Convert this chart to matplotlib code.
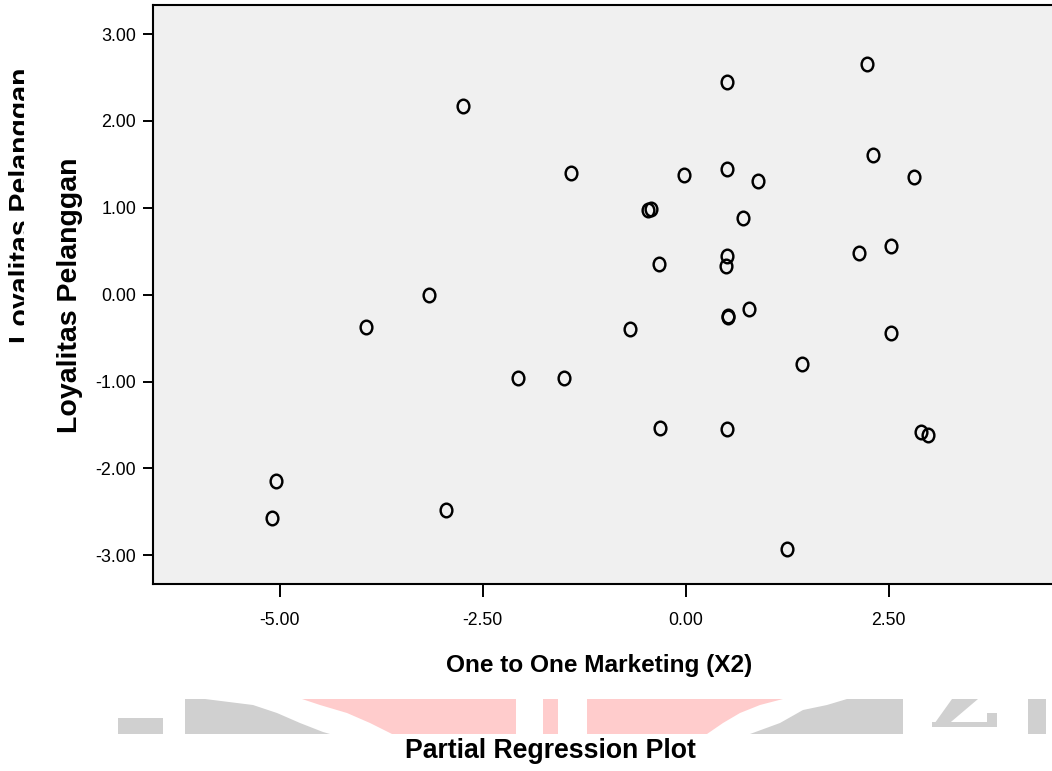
import matplotlib
matplotlib.use('Agg')
import matplotlib.pyplot as plt
from matplotlib.path import Path
from matplotlib.patches import Polygon
from matplotlib.transforms import Affine2D, Bbox, TransformedBbox

plt.rcParams['font.family'] = ['Liberation Sans', 'DejaVu Sans']

# residual One to One Marketing (X2) vs residual Loyalitas Pelanggan
x_res = [-2.74, -1.41, -0.47, -0.43, -3.16, 0.51, 2.23, 2.31, 2.81, -0.02,
         0.51, 0.89, 0.70, -0.33, 0.51, 0.50, 2.13, 2.53, -3.94, -2.06,
         -1.50, -0.69, -5.05, -5.10, -2.95, 0.52, 0.52, 0.78, 2.53, 1.43,
         -0.31, 0.51, 2.90, 2.98, 1.25]
y_res = [2.17, 1.40, 0.97, 0.99, 0.00, 2.45, 2.65, 1.61, 1.36, 1.38,
         1.45, 1.31, 0.88, 0.35, 0.45, 0.33, 0.48, 0.56, -0.37, -0.96,
         -0.96, -0.40, -2.14, -2.57, -2.48, -0.25, -0.26, -0.17, -0.44, -0.80,
         -1.53, -1.55, -1.58, -1.61, -2.93]

x_ticks = [-5.0, -2.5, 0.0, 2.5]
y_ticks = [3.0, 2.0, 1.0, 0.0, -1.0, -2.0, -3.0]

x_label = 'One to One Marketing (X2)'
y_label = 'Loyalitas Pelanggan'
title = 'Partial Regression Plot'

W, H = 1052, 771
fig = plt.figure(figsize=(W / 100, H / 100), dpi=100)


def fx(px):
    return px / W


def fy(py):
    return 1 - py / H


# plot area, right edge runs off the picture like in the scan
ax = fig.add_axes([fx(153), fy(584), fx(1060) - fx(153), fy(5) - fy(584)])
ax.set_facecolor('#f0f0f0')
ax.set_xlim(-6.56, 4.61)
ax.set_ylim(-3.33, 3.334)

# spss circles are a bit taller than wide
ell = Affine2D().scale(0.86, 1.0).transform_path(Path.unit_circle())
ax.plot(x_res, y_res, linestyle='none', marker=ell, markersize=9.8,
        markerfacecolor='none', markeredgecolor='black', markeredgewidth=1.75)

ax.set_xticks(x_ticks)
ax.set_xticklabels(['%.2f' % v for v in x_ticks])
ax.set_yticks(y_ticks)
ax.set_yticklabels(['%.2f' % v for v in y_ticks])
ax.tick_params(axis='x', length=9.4, width=1.4, pad=11, labelsize=12.7)
ax.tick_params(axis='y', length=7.2, width=1.4, pad=5, labelsize=12.9)
for s in ['left', 'top', 'bottom']:
    ax.spines[s].set_linewidth(1.5)
ax.spines['right'].set_visible(False)

# watermark strip behind the title
gray = '#d0d0d0'
pink = '#ffcccc'
wm = [
    (gray, [(118, 718), (163, 718), (163, 734), (118, 734)]),
    (gray, [(185, 699), (205, 699), (253, 705), (277, 713), (300, 723),
            (323, 732), (330, 734), (185, 734)]),
    (pink, [(302, 699), (516, 699), (516, 734), (392, 734), (370, 723),
            (347, 713), (320, 705)]),
    (pink, [(543, 699), (558, 699), (558, 734), (543, 734)]),
    (pink, [(587, 699), (783, 699), (760, 705), (740, 713), (723, 723),
            (707, 734), (587, 734)]),
    (gray, [(750, 734), (780, 723), (803, 710), (827, 705), (847, 699),
            (903, 699), (903, 734)]),
    (gray, [(952, 699), (978, 699), (945, 727), (932, 727)]),
    (gray, [(932, 722), (997, 722), (997, 727), (932, 727)]),
    (gray, [(987, 713), (997, 713), (997, 727), (987, 727)]),
    (gray, [(1028, 699), (1046, 699), (1046, 734), (1028, 734)]),
]
for col, pts in wm:
    poly = Polygon([(fx(a), fy(b)) for a, b in pts], closed=True,
                   facecolor=col, edgecolor='none', transform=fig.transFigure, zorder=0)
    fig.add_artist(poly)

fig.text(fx(599), fy(672.3), x_label, ha='center', va='baseline',
         fontsize=17.6, fontweight='bold')
fig.text(fx(550), fy(757.5), title, ha='center', va='baseline',
         fontsize=19.2, fontweight='bold')
fig.text(fx(70), fy(295), y_label, rotation=90, ha='center', va='center',
         fontsize=20.5, fontweight='bold')

# second, half cut off copy of the y label at the left edge
cut = fig.text(fx(22), fy(205), y_label, rotation=90, ha='center', va='center',
               fontsize=20.5, fontweight='bold')
cut.set_clip_box(TransformedBbox(Bbox([[0, 0], [fx(23.5), 1]]), fig.transFigure))
cut.set_clip_on(True)

fig.savefig('out.png', dpi=100)
